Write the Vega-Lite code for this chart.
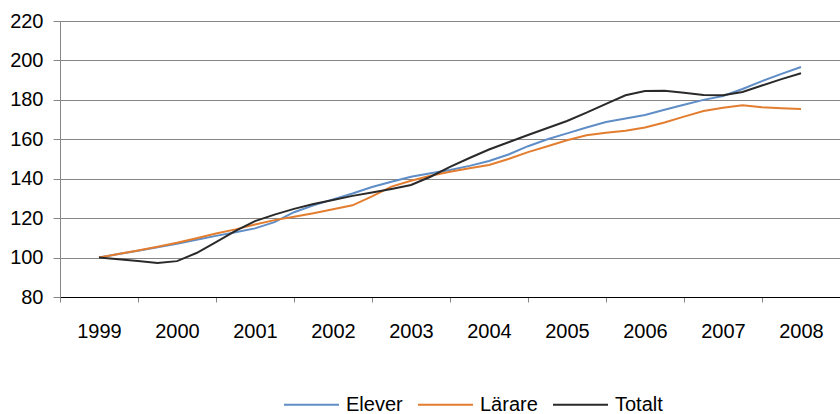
{
  "$schema": "https://vega.github.io/schema/vega-lite/v6.json",
  "autosize": {"type": "none"},
  "width": 780,
  "height": 276,
  "padding": {"top": 21, "left": 60, "right": 0, "bottom": 117},
  "background": "white",
  "config": {
    "view": {"stroke": null},
    "font": "Liberation Sans"
  },
  "datasets": {
    "q": [
      {"t":1999.0,"Elever":100,"Lärare":100,"Totalt":100},
      {"t":1999.25,"Elever":101.8,"Lärare":101.8,"Totalt":99.2},
      {"t":1999.5,"Elever":103.5,"Lärare":103.6,"Totalt":98.3},
      {"t":1999.75,"Elever":105.2,"Lärare":105.5,"Totalt":97.2},
      {"t":2000.0,"Elever":107,"Lärare":107.5,"Totalt":98.2},
      {"t":2000.25,"Elever":109,"Lärare":109.8,"Totalt":102.3},
      {"t":2000.5,"Elever":111,"Lärare":112.2,"Totalt":107.8},
      {"t":2000.75,"Elever":112.8,"Lärare":114.3,"Totalt":113.5},
      {"t":2001.0,"Elever":114.8,"Lärare":116.8,"Totalt":118.5},
      {"t":2001.25,"Elever":118,"Lärare":119,"Totalt":121.8},
      {"t":2001.5,"Elever":123,"Lärare":120.7,"Totalt":124.7},
      {"t":2001.75,"Elever":126.5,"Lärare":122.5,"Totalt":127.2},
      {"t":2002.0,"Elever":129.5,"Lärare":124.5,"Totalt":129.2},
      {"t":2002.25,"Elever":132.5,"Lärare":126.5,"Totalt":131.3},
      {"t":2002.5,"Elever":135.8,"Lärare":131,"Totalt":133},
      {"t":2002.75,"Elever":138.5,"Lärare":136,"Totalt":134.8},
      {"t":2003.0,"Elever":141,"Lärare":139,"Totalt":136.8},
      {"t":2003.25,"Elever":142.8,"Lärare":141.5,"Totalt":141},
      {"t":2003.5,"Elever":144.4,"Lärare":143.5,"Totalt":146},
      {"t":2003.75,"Elever":146.5,"Lärare":145.3,"Totalt":150.5},
      {"t":2004.0,"Elever":149,"Lärare":147,"Totalt":154.8},
      {"t":2004.25,"Elever":152.3,"Lärare":150,"Totalt":158.5},
      {"t":2004.5,"Elever":156.5,"Lärare":153.5,"Totalt":162.2},
      {"t":2004.75,"Elever":160,"Lärare":156.5,"Totalt":165.7},
      {"t":2005.0,"Elever":163,"Lärare":159.5,"Totalt":169.3},
      {"t":2005.25,"Elever":166,"Lärare":162,"Totalt":173.5},
      {"t":2005.5,"Elever":168.8,"Lärare":163.3,"Totalt":178},
      {"t":2005.75,"Elever":170.5,"Lärare":164.3,"Totalt":182.3},
      {"t":2006.0,"Elever":172.3,"Lärare":166,"Totalt":184.5},
      {"t":2006.25,"Elever":175,"Lärare":168.5,"Totalt":184.6},
      {"t":2006.5,"Elever":177.5,"Lärare":171.5,"Totalt":183.6},
      {"t":2006.75,"Elever":180,"Lärare":174.3,"Totalt":182.5},
      {"t":2007.0,"Elever":182,"Lärare":176,"Totalt":182.4},
      {"t":2007.25,"Elever":185.5,"Lärare":177.2,"Totalt":184},
      {"t":2007.5,"Elever":189.5,"Lärare":176.2,"Totalt":187.3},
      {"t":2007.75,"Elever":193.2,"Lärare":175.8,"Totalt":190.5},
      {"t":2008.0,"Elever":196.7,"Lärare":175.3,"Totalt":193.5}
    ]
  },
  "data": {"name": "q"},
  "transform": [
    {"fold": ["Elever", "Lärare", "Totalt"], "as": ["serie", "v"]}
  ],
  "mark": {"type": "line", "strokeWidth": 2, "interpolate": "linear"},
  "encoding": {
    "x": {
      "field": "t",
      "type": "quantitative",
      "scale": {"domain": [1998.5, 2008.5], "nice": false, "zero": false},
      "axis": {
        "title": null,
        "values": [1998.5, 1999.5, 2000.5, 2001.5, 2002.5, 2003.5, 2004.5, 2005.5, 2006.5, 2007.5, 2008.5],
        "labelExpr": "datum.value < 2008 ? format(datum.value + 0.5, 'd') : ''",
        "labelOffset": 39,
        "labelFontSize": 20,
        "labelColor": "#000000",
        "labelPadding": 19,
        "labelOverlap": false,
        "labelFlush": false,
        "labelBound": false,
        "grid": false,
        "domainColor": "#000000",
        "domainWidth": 1,
        "tickColor": "#868686",
        "tickSize": 5,
        "tickWidth": 1
      }
    },
    "y": {
      "field": "v",
      "type": "quantitative",
      "scale": {"domain": [80, 220], "nice": false, "zero": false},
      "axis": {
        "title": null,
        "values": [80, 100, 120, 140, 160, 180, 200, 220],
        "labelFontSize": 20,
        "labelColor": "#000000",
        "labelPadding": 10,
        "grid": true,
        "gridColor": "#868686",
        "gridWidth": 1,
        "domainColor": "#868686",
        "tickColor": "#868686",
        "tickSize": 7,
        "labelFlush": false,
        "labelBound": false
      }
    },
    "color": {
      "field": "serie",
      "type": "nominal",
      "scale": {"domain": ["Elever", "Lärare", "Totalt"], "range": ["#5f8dc6", "#e37d2f", "#2a2a2a"]},
      "legend": {
        "title": null,
        "orient": "none",
        "direction": "horizontal",
        "legendX": 223,
        "legendY": 355,
        "symbolType": "stroke",
        "symbolSize": 3025,
        "symbolStrokeWidth": 2,
        "labelFontSize": 20,
        "labelColor": "#000000",
        "labelOffset": 6,
        "columnPadding": 11,
        "padding": 0
      }
    }
  }
}
